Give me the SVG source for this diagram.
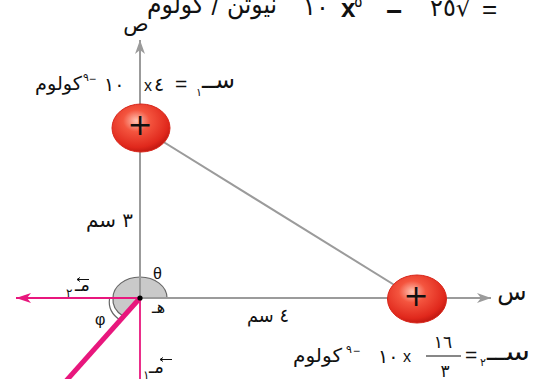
<svg xmlns="http://www.w3.org/2000/svg" width="542" height="379" viewBox="0 0 542 379">
<style>
.ar{font-family:"DejaVu Sans",sans-serif;fill:#111}
.lt{font-family:"Liberation Sans",sans-serif;fill:#111}
.ax{stroke:#9b9b9b;stroke-width:2;fill:none}
.pk{stroke:#e8177d;fill:none}
</style>
<defs>
<radialGradient id="ball" cx="0.42" cy="0.35" r="0.65">
<stop offset="0" stop-color="#ffc4b4"/>
<stop offset="0.35" stop-color="#f4553f"/>
<stop offset="0.85" stop-color="#e0281c"/>
<stop offset="1" stop-color="#c41a12"/>
</radialGradient>
<marker id="ga" viewBox="0 0 14 10" refX="14" refY="5" markerWidth="14" markerHeight="10" orient="auto" markerUnits="userSpaceOnUse">
<path d="M0,0 L14,5 L0,10 L4,5 Z" fill="#9b9b9b"/>
</marker>
<marker id="pa" viewBox="0 0 15 10" refX="15" refY="5" markerWidth="15" markerHeight="10" orient="auto" markerUnits="userSpaceOnUse">
<path d="M0,0 L15,5 L0,10 L4,5 Z" fill="#e8177d"/>
</marker>
</defs>
<rect width="542" height="379" fill="#fff"/>

<g id="header">
<text class="ar" x="147" y="13" font-size="26" textLength="130" lengthAdjust="spacingAndGlyphs">نيوتن / كولوم</text>
<text class="ar" x="303" y="15" font-size="24" letter-spacing="3">١٠</text>
<text class="lt" x="341" y="17" font-size="26" font-weight="bold">x</text>
<text class="ar" x="354" y="7" font-size="16">٥</text>
<text class="lt" x="386" y="21" font-size="28" font-weight="bold">−</text>
<text class="ar" x="430" y="16" font-size="24">٢٥√</text>
<text class="lt" x="482" y="18" font-size="26">=</text>
</g>

<g id="angles">
<path d="M113,298 A27,21 0 0,1 167,298 Z" fill="#c9c9c9" stroke="#666" stroke-width="1.2"/>
<path d="M140,298 L113,298 A27,21 0 0,0 123,316 Z" fill="#c9c9c9" stroke="#666" stroke-width="1.2"/>
<path d="M109.5,299 A30.5,24 0 0,0 120,320" stroke="#666" stroke-width="1.2" fill="none"/>
</g>

<g id="connectors">
<line class="ax" x1="140" y1="298" x2="140" y2="40" marker-end="url(#ga)"/>
<line class="ax" x1="140" y1="298" x2="491" y2="298" marker-end="url(#ga)"/>
<line class="ax" x1="141" y1="128" x2="417" y2="299"/>
<line class="pk" x1="140" y1="298" x2="16" y2="298" stroke-width="1.8" marker-end="url(#pa)"/>
<line class="pk" x1="140" y1="298" x2="140" y2="379" stroke-width="1.8"/>
<line class="pk" x1="140" y1="298" x2="66" y2="381" stroke-width="5"/>
</g>

<g id="origin">
<circle cx="140" cy="298" r="2.6" fill="#000"/>
</g>

<g id="charge1">
<ellipse cx="141" cy="128" rx="29" ry="24" fill="url(#ball)" stroke="#d8261a" stroke-width="1"/>
<text class="ar" x="140" y="135" font-size="30" text-anchor="middle">+</text>
</g>

<g id="charge2">
<ellipse cx="417" cy="299" rx="29.5" ry="24" fill="url(#ball)" stroke="#d8261a" stroke-width="1"/>
<text class="ar" x="416" y="306" font-size="30" text-anchor="middle">+</text>
</g>

<g id="labels">
<text class="ar" x="136" y="31" font-size="21" text-anchor="middle">ص</text>
<text class="ar" x="512" y="300" font-size="24" text-anchor="middle">س</text>
<text class="lt" x="153" y="279" font-size="16">θ</text>
<text class="lt" x="95" y="325" font-size="16">φ</text>
<text class="ar" x="152" y="313" font-size="16">هـ</text>
<text class="ar" x="133" y="227" font-size="20" text-anchor="end" textLength="47" lengthAdjust="spacingAndGlyphs">٣ سم</text>
<text class="ar" x="289" y="322" font-size="19" text-anchor="end" textLength="42" lengthAdjust="spacingAndGlyphs">٤ سم</text>

<text class="ar" x="90" y="291" font-size="18" text-anchor="end">مـ</text>
<text class="ar" x="66" y="297" font-size="12">٢</text>
<path d="M89,279.5 L77,279.5 M80,277.5 L77,279.5 L80,281.5" stroke="#111" stroke-width="1" fill="none"/>

<text class="ar" x="143" y="379" font-size="12">١</text>
<text class="ar" x="149" y="373" font-size="18">مـ</text>
<path d="M172,359.5 L160,359.5 M163,357.5 L160,359.5 L163,361.5" stroke="#111" stroke-width="1" fill="none"/>

<text class="ar" x="35" y="90" font-size="19" textLength="47" lengthAdjust="spacingAndGlyphs">كولوم</text>
<text class="ar" x="83" y="81" font-size="11">٩</text>
<text class="lt" x="89" y="83" font-size="12">−</text>
<text class="ar" x="104" y="91" font-size="19" letter-spacing="6">١٠</text>
<text class="lt" x="144" y="91" font-size="16">x</text>
<text class="ar" x="154" y="91" font-size="19">٤</text>
<text class="lt" x="175" y="91" font-size="21">=</text>
<text class="ar" x="196" y="96" font-size="11">١</text>
<text class="ar" x="202" y="88" font-size="24" textLength="33" lengthAdjust="spacingAndGlyphs">ســ</text>

<text class="ar" x="293" y="362" font-size="19" textLength="49" lengthAdjust="spacingAndGlyphs">كولوم</text>
<text class="ar" x="346" y="353" font-size="11">٩</text>
<text class="lt" x="353" y="355" font-size="12">−</text>
<text class="ar" x="378" y="363" font-size="19" letter-spacing="6">١٠</text>
<text class="lt" x="403" y="362" font-size="16">x</text>
<text class="ar" x="443" y="348" font-size="17" text-anchor="middle" letter-spacing="4">١٦</text>
<line x1="426" y1="356" x2="461" y2="356" stroke="#111" stroke-width="1.2"/>
<text class="ar" x="445" y="377" font-size="17" text-anchor="middle">٣</text>
<text class="lt" x="465" y="362" font-size="21">=</text>
<text class="ar" x="480" y="366" font-size="11">٢</text>
<text class="ar" x="487" y="360" font-size="24" textLength="43" lengthAdjust="spacingAndGlyphs">ســ</text>
</g>
</svg>
